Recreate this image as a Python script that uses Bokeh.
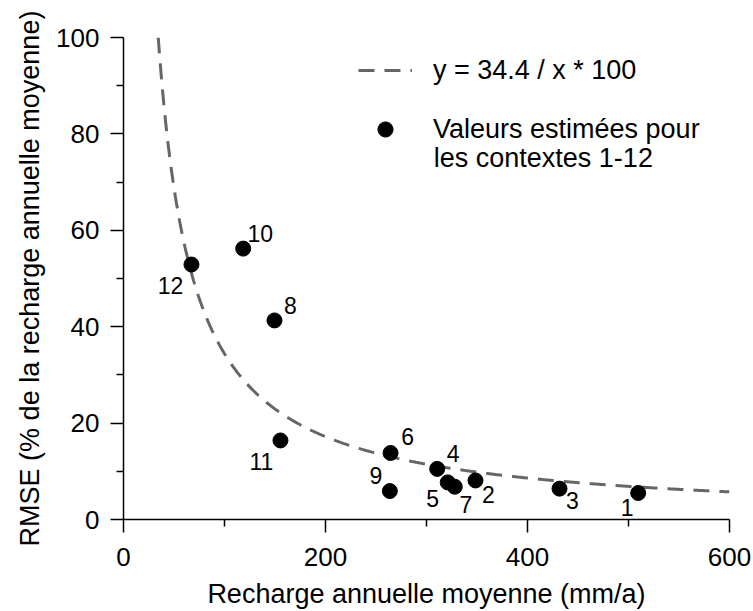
import numpy as np
from bokeh.plotting import figure
from bokeh.models import (ColumnDataSource, Range1d, FixedTicker, Legend, LegendItem, Label)
from bokeh.core.properties import value
from bokeh.embed import file_html
from bokeh.resources import INLINE

# ---- data ----
recharge = [509.6, 348.5, 431.7, 310.6, 321.0, 264.4, 328.0, 149.5, 263.7, 118.5, 155.4, 67.3]
rmse = [5.5, 8.1, 6.4, 10.5, 7.7, 13.8, 6.8, 41.3, 5.9, 56.2, 16.4, 52.9]
context_labels = ["1", "2", "3", "4", "5", "6", "7", "8", "9", "10", "11", "12"]
fit_coef = 34.4
x_ticks = [0, 200, 400, 600]
x_minor = [100, 300, 500]
y_ticks = [0, 20, 40, 60, 80, 100]
y_minor = [10, 30, 50, 70, 90]

# label placement (screen px)
label_dx = [-11, 13, 13, 16, -15, 17, 11, 16, -14, 17, -19, -21]
label_dy = [15, 14, 12, -15, 16, -16, 18, -15, -16, -15, 21, 21]

FONT = "Liberation Sans"

p = figure(width=753, height=611, output_backend="svg", toolbar_location=None,
           x_range=Range1d(0, 600), y_range=Range1d(0, 100),
           min_border_left=123, min_border_right=24, min_border_top=37, min_border_bottom=92)
p.outline_line_color = None
p.xgrid.visible = False
p.ygrid.visible = False
p.background_fill_color = "white"
p.border_fill_color = "white"

# fitted curve
xc = np.linspace(fit_coef, 600, 600)
yc = fit_coef / xc * 100
curve = p.line(xc, yc, line_color="#666666", line_width=3, line_dash="16 10")

src = ColumnDataSource(dict(x=recharge, y=rmse, lab=context_labels, dx=label_dx, dy=label_dy))
pts = p.scatter("x", "y", source=src, size=15, fill_color="black", line_color="black")
p.text("x", "y", text="lab", source=src, x_offset="dx", y_offset="dy",
       text_align="center", text_baseline="middle", text_font=value(FONT),
       text_font_size="23px", text_color="black")


def make_legend(items, loc):
    lg = Legend(items=items, location=loc)
    lg.border_line_color = None
    lg.background_fill_alpha = 0
    lg.label_text_font = FONT
    lg.label_text_font_size = "27px"
    lg.label_text_color = "black"
    lg.glyph_width = 54
    lg.glyph_height = 38
    lg.label_standoff = 21
    lg.spacing = 0
    lg.padding = 0
    lg.margin = 0
    return lg


p.add_layout(make_legend([LegendItem(label="y = 34.4 / x * 100", renderers=[curve])], (235, 430)))
p.add_layout(make_legend([LegendItem(label="Valeurs estimées pour", renderers=[pts])], (235, 371)))
p.add_layout(Label(x=307.2, y=75, text="les contextes 1-12", text_font=FONT,
                   text_font_size="27px", text_color="black",
                   text_align="left", text_baseline="middle"))

for ax in (p.xaxis[0], p.yaxis[0]):
    ax.axis_line_color = "black"
    ax.axis_line_width = 1.5
    ax.major_tick_line_color = "black"
    ax.minor_tick_line_color = "black"
    ax.major_tick_line_width = 1.5
    ax.minor_tick_line_width = 1.5
    ax.major_tick_out = 13
    ax.major_tick_in = 0
    ax.minor_tick_out = 7
    ax.minor_tick_in = 0
    ax.major_label_text_font = FONT
    ax.major_label_text_font_size = "26px"
    ax.major_label_text_color = "black"
    ax.axis_label_text_font = FONT
    ax.axis_label_text_font_size = "27px"
    ax.axis_label_text_font_style = "normal"
    ax.axis_label_text_color = "black"

p.xaxis.major_label_standoff = 15
p.yaxis.major_label_standoff = 11
p.xaxis.ticker = FixedTicker(ticks=x_ticks, minor_ticks=x_minor)
p.yaxis.ticker = FixedTicker(ticks=y_ticks, minor_ticks=y_minor)
p.xaxis.axis_label = "Recharge annuelle moyenne (mm/a)"
p.yaxis.axis_label = "RMSE (% de la recharge annuelle moyenne)"
p.xaxis.axis_label_standoff = 10
p.yaxis.axis_label_standoff = 8

open("out.html", "w").write(file_html(p, INLINE))
